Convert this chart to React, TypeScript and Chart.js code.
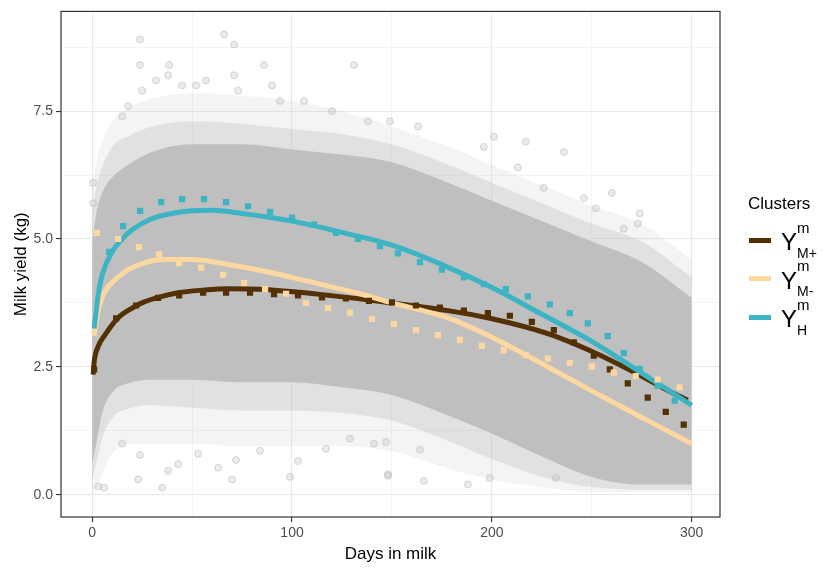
import React, { useEffect, useRef } from 'react';
import { Chart, registerables } from 'chart.js';

Chart.register(...registerables);

// ---- axis ticks / labels ----
const xTicks = [0, 100, 200, 300];
const xMinorTicks = [50, 150, 250];
const yTicks = [0, 2.5, 5, 7.5];
const yMinorTicks = [1.25, 3.75, 6.25, 8.75];
const yTickLabels = ['0.0', '2.5', '5.0', '7.5'];
const xTitle = 'Days in milk';
const yTitle = 'Milk yield (kg)';
const legendTitle = 'Clusters';

// ---- raw data cloud (envelopes) ----
const cloudDays = [0, 2, 5, 10, 20, 30, 50, 75, 100, 125, 150, 175, 200, 225, 250, 275, 300];
const coreUpper = [4.9, 5.5, 5.9, 6.2, 6.5, 6.7, 6.85, 6.85, 6.75, 6.65, 6.5, 6.15, 5.75, 5.35, 4.95, 4.55, 3.85];
const coreLower = [0.6, 1.0, 1.6, 2.0, 2.2, 2.25, 2.25, 2.2, 2.2, 2.1, 1.95, 1.6, 1.2, 0.75, 0.35, 0.2, 0.2];
const midUpper = [5.5, 6.0, 6.4, 6.8, 7.05, 7.2, 7.3, 7.25, 7.15, 7.05, 6.85, 6.5, 6.1, 5.7, 5.3, 4.95, 4.25];
const midLower = [0.3, 0.6, 1.1, 1.5, 1.7, 1.75, 1.7, 1.65, 1.65, 1.6, 1.45, 1.1, 0.7, 0.35, 0.15, 0.1, 0.1];
const hazeUpper = [6.0, 6.5, 6.9, 7.3, 7.6, 7.75, 7.85, 7.8, 7.7, 7.5, 7.2, 6.85, 6.45, 6.05, 5.65, 5.3, 4.6];
const hazeLower = [0.1, 0.15, 0.4, 0.8, 1.0, 1.0, 1.0, 0.95, 0.95, 0.95, 0.85, 0.55, 0.3, 0.15, 0.05, 0.05, 0.05];

// sparse outlying records
const outlierDays = [24, 66, 71, 24, 38.5, 86, 131, 38, 71, 25, 32, 45, 57, 52, 73, 90, 18, 15, 94, 106, 120, 138, 0.5, 0.5, 149, 163, 201, 217, 236, 213, 226, 260, 246, 274, 252, 266, 273, 196,
  15, 23, 35, 38, 70, 99, 103, 53, 72, 84, 117, 3, 6, 24, 43, 63, 141, 129, 148, 188, 148, 166, 199, 232, 147, 164];
const outlierYield = [8.9, 9.0, 8.8, 8.4, 8.4, 8.4, 8.4, 8.2, 8.2, 7.9, 8.1, 8.0, 8.1, 8.0, 7.9, 8.0, 7.6, 7.4, 7.7, 7.7, 7.5, 7.3, 6.1, 5.7, 7.3, 7.2, 7.0, 6.9, 6.7, 6.4, 6.0, 5.9, 5.8, 5.5, 5.6, 5.2, 5.3, 6.8,
  1.0, 0.3, 0.14, 0.47, 0.3, 0.35, 0.66, 0.8, 0.68, 0.86, 0.9, 0.16, 0.14, 0.78, 0.6, 0.53, 1.0, 1.1, 0.4, 0.2, 0.37, 0.27, 0.33, 0.33, 1.03, 0.88];

// ---- fitted curves ----
const brownDays = [0.5, 1, 3, 6, 13, 20, 26, 35, 43, 55, 68, 84, 101, 118, 134, 150, 178, 199, 228, 249, 271, 291, 298];
const brownVals = [2.35, 2.6, 2.9, 3.1, 3.46, 3.65, 3.77, 3.88, 3.95, 4.0, 4.03, 4.02, 3.97, 3.9, 3.83, 3.75, 3.6, 3.45, 3.15, 2.82, 2.4, 1.98, 1.85];
const orangeDays = [1, 3, 6, 10, 18, 25, 35, 50, 68, 85, 101, 118, 134, 150, 178, 199, 228, 249, 278, 300];
const orangeVals = [3.1, 3.6, 3.95, 4.15, 4.4, 4.52, 4.6, 4.6, 4.5, 4.38, 4.24, 4.08, 3.93, 3.75, 3.46, 3.1, 2.5, 2.05, 1.45, 1.0];
const tealDays = [1, 3, 5, 10, 15, 20, 30, 40, 50, 60, 75, 100, 125, 150, 175, 200, 225, 250, 275, 300];
const tealVals = [3.25, 3.9, 4.3, 4.75, 5.0, 5.18, 5.4, 5.5, 5.55, 5.56, 5.5, 5.35, 5.13, 4.88, 4.5, 4.05, 3.53, 3.0, 2.38, 1.75];

// ---- observed cluster means (squares) ----
const brownSqDays = [1, 12, 22, 33, 43.5, 55.5, 67, 79, 91, 103, 115, 127, 138.5, 150, 162, 174, 186, 198, 209, 220, 231, 241, 251, 259, 268, 278, 287, 296];
const brownSqVals = [2.45, 3.45, 3.7, 3.85, 3.9, 3.95, 3.95, 3.95, 3.92, 3.9, 3.86, 3.84, 3.79, 3.76, 3.7, 3.66, 3.6, 3.55, 3.5, 3.38, 3.22, 2.98, 2.72, 2.45, 2.18, 1.9, 1.62, 1.37];
const orangeSqDays = [2.5, 13, 23.5, 33.5, 43.5, 54.5, 65.5, 76, 86.5, 97, 107, 118, 129, 140, 151, 162, 173, 184, 195, 206, 217, 228, 239, 250, 261, 272, 283, 294];
const orangeSqVals = [5.12, 5.0, 4.84, 4.7, 4.53, 4.44, 4.3, 4.14, 4.02, 3.93, 3.75, 3.65, 3.56, 3.44, 3.34, 3.22, 3.12, 3.03, 2.91, 2.83, 2.73, 2.66, 2.58, 2.51, 2.39, 2.32, 2.25, 2.1];
const tealSqDays = [8.5, 15.5, 24, 34.5, 45, 56, 67, 78, 89, 100, 111, 122, 133, 144, 153, 164, 175, 186, 196, 207, 218, 229, 239, 248, 258, 266, 274, 283, 291.5];
const tealSqVals = [4.75, 5.25, 5.55, 5.72, 5.78, 5.78, 5.72, 5.64, 5.53, 5.42, 5.28, 5.12, 5.0, 4.86, 4.72, 4.55, 4.4, 4.25, 4.12, 4.02, 3.88, 3.72, 3.55, 3.35, 3.1, 2.77, 2.46, 2.13, 1.84];

const BROWN = '#543005';
const ORANGE = '#fdd7a0';
const TEAL = '#3cb4c4';
const GREY = 'rgb(191,191,191)';

const pts = (xs: number[], ys: number[]) => xs.map((x, i) => ({ x, y: ys[i] }));

const FONT = "'Liberation Sans', Arial, sans-serif";

const borderPlugin = {
  id: 'panelBorder',
  afterDatasetsDraw(chart: any) {
    const { ctx, chartArea } = chart;
    ctx.save();
    ctx.strokeStyle = '#333333';
    ctx.lineWidth = 1.2;
    ctx.strokeRect(chartArea.left, chartArea.top, chartArea.right - chartArea.left, chartArea.bottom - chartArea.top);
    ctx.restore();
  },
};

export default function App() {
  const ref = useRef<HTMLCanvasElement | null>(null);

  useEffect(() => {
    if (!ref.current) return;
    Chart.defaults.font.family = FONT;
    const band = (data: any[], color: string, fill: any, order: number) => ({
      type: 'line',
      data,
      borderWidth: 0,
      borderColor: 'rgba(0,0,0,0)',
      backgroundColor: color,
      pointRadius: 0,
      fill,
      cubicInterpolationMode: 'monotone',
      order,
    });
    const curve = (data: any[], color: string, order: number) => ({
      type: 'line',
      data,
      borderColor: color,
      borderWidth: 5,
      pointRadius: 0,
      fill: false,
      cubicInterpolationMode: 'monotone',
      borderCapStyle: 'butt',
      order,
    });
    const squares = (data: any[], color: string, order: number) => ({
      type: 'line',
      data,
      showLine: false,
      pointStyle: 'rect',
      pointRadius: 4.4,
      pointBorderWidth: 0,
      pointBackgroundColor: color,
      pointBorderColor: color,
      fill: false,
      order,
    });

    const chart = new Chart(ref.current, {
      type: 'line',
      data: {
        datasets: [
          {
            type: 'line',
            data: pts(outlierDays, outlierYield),
            showLine: false,
            pointRadius: 3.5,
            pointBackgroundColor: 'rgba(190,190,190,0.3)',
            pointBorderColor: 'rgba(175,175,175,0.45)',
            pointBorderWidth: 1,
            fill: false,
            order: 20,
          } as any,
          band(pts(cloudDays, hazeLower), 'rgba(0,0,0,0)', false, 19),
          band(pts(cloudDays, hazeUpper), 'rgba(190,190,190,0.17)', '-1', 18),
          band(pts(cloudDays, midLower), 'rgba(0,0,0,0)', false, 17),
          band(pts(cloudDays, midUpper), 'rgba(190,190,190,0.36)', '-1', 16),
          band(pts(cloudDays, coreLower), 'rgba(0,0,0,0)', false, 15),
          band(pts(cloudDays, coreUpper), GREY, '-1', 14),
          curve(pts(brownDays, brownVals), BROWN, 9),
          curve(pts(orangeDays, orangeVals), ORANGE, 8),
          curve(pts(tealDays, tealVals), TEAL, 7),
          squares(pts(brownSqDays, brownSqVals), BROWN, 6),
          squares(pts(orangeSqDays, orangeSqVals), ORANGE, 5),
          squares(pts(tealSqDays, tealSqVals), TEAL, 4),
        ] as any,
      },
      options: {
        animation: false,
        responsive: false,
        events: [],
        layout: { padding: { top: 11, right: 104, bottom: 0, left: 0 } },
        plugins: {
          legend: { display: false },
          tooltip: { enabled: false },
        },
        scales: {
          x: {
            type: 'linear',
            min: -15.6,
            max: 314.15,
            afterBuildTicks: (s: any) => {
              s.ticks = [...xTicks, ...xMinorTicks].sort((a, b) => a - b).map((v) => ({ value: v }));
            },
            afterFit: (s: any) => {
              s.height = 51;
            },
            ticks: {
              autoSkip: false,
              maxRotation: 0,
              padding: 3,
              color: '#4d4d4d',
              font: { size: 14, family: FONT },
              callback: (v: any) => (xTicks.includes(Number(v)) ? String(v) : ''),
            },
            grid: {
              color: (c: any) => (c.tick && xTicks.includes(c.tick.value) ? '#e8e8e8' : '#efefef'),
              lineWidth: (c: any) => (c.tick && xTicks.includes(c.tick.value) ? 1.1 : 0.7),
              tickColor: (c: any) => (c.tick && xTicks.includes(c.tick.value) ? '#333333' : 'rgba(0,0,0,0)'),
              tickLength: 5,
              tickWidth: 1.1,
            },
            border: { display: false },
            title: { display: true, text: xTitle, color: '#000', font: { size: 17, family: FONT }, padding: { top: 0, bottom: 3 } },
          },
          y: {
            type: 'linear',
            min: -0.434,
            max: 9.449,
            afterBuildTicks: (s: any) => {
              s.ticks = [...yTicks, ...yMinorTicks].sort((a, b) => a - b).map((v) => ({ value: v }));
            },
            afterFit: (s: any) => {
              s.width = 61;
            },
            ticks: {
              autoSkip: false,
              padding: 3,
              color: '#4d4d4d',
              font: { size: 14, family: FONT },
              callback: (v: any) => {
                const i = yTicks.indexOf(Number(v));
                return i >= 0 ? yTickLabels[i] : '';
              },
            },
            grid: {
              color: (c: any) => (c.tick && yTicks.includes(c.tick.value) ? '#e8e8e8' : '#efefef'),
              lineWidth: (c: any) => (c.tick && yTicks.includes(c.tick.value) ? 1.1 : 0.7),
              tickColor: (c: any) => (c.tick && yTicks.includes(c.tick.value) ? '#333333' : 'rgba(0,0,0,0)'),
              tickLength: 5,
              tickWidth: 1.1,
            },
            border: { display: false },
            title: { display: true, text: yTitle, color: '#000', font: { size: 17, family: FONT }, padding: { top: 11, bottom: 0 } },
          },
        },
      } as any,
      plugins: [borderPlugin],
    });
    return () => chart.destroy();
  }, []);

  const entries = [
    { color: BROWN, sub: 'M+' },
    { color: ORANGE, sub: 'M-' },
    { color: TEAL, sub: 'H' },
  ];

  return (
    <div style={{ position: 'fixed', left: 0, top: 0, width: 824, height: 568, background: '#fff', fontFamily: FONT }}>
      <canvas ref={ref} width={824} height={568} style={{ position: 'absolute', left: 0, top: 0, width: 824, height: 568 }} />
      <div style={{ position: 'absolute', left: 748, top: 195, fontSize: 17, lineHeight: '17px', color: '#000', whiteSpace: 'nowrap' }}>
        {legendTitle}
      </div>
      {entries.map((e, i) => {
        const dy = i * 38.5;
        return (
          <React.Fragment key={i}>
            <div style={{ position: 'absolute', left: 749, top: 237.5 + dy, width: 22, height: 5, background: e.color }} />
            <div style={{ position: 'absolute', left: 781, top: 230.2 + dy, fontSize: 24, lineHeight: '24px', color: '#000', whiteSpace: 'nowrap' }}>Y</div>
            <div style={{ position: 'absolute', left: 797, top: 219.5 + dy, fontSize: 15, lineHeight: '15px', color: '#000', whiteSpace: 'nowrap' }}>m</div>
            <div style={{ position: 'absolute', left: 797, top: 245.5 + dy, fontSize: 14, lineHeight: '14px', color: '#000', whiteSpace: 'nowrap' }}>{e.sub}</div>
          </React.Fragment>
        );
      })}
    </div>
  );
}
